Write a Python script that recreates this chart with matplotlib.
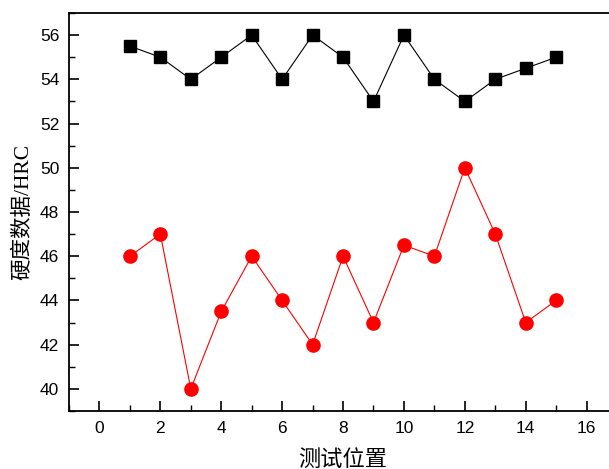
import numpy as np
import matplotlib
matplotlib.use("Agg")
import matplotlib.pyplot as plt
from matplotlib.ticker import MultipleLocator

# test positions and hardness readings (HRC)
positions = [1, 2, 3, 4, 5, 6, 7, 8, 9, 10, 11, 12, 13, 14, 15]
hard_black = [55.5, 55, 54, 55, 56, 54, 56, 55, 53, 56, 54, 53, 54, 54.5, 55]
hard_red = [46, 47, 40, 43.5, 46, 44, 42, 46, 43, 46.5, 46, 50, 47, 43, 44]

plt.rcParams['font.family'] = ['Liberation Sans', 'DejaVu Sans']

fig = plt.figure(figsize=(6.09, 4.69), dpi=100)
ax = fig.add_axes([0.1133, 0.1237, 0.900, 0.8486])

ax.plot(positions, hard_black, color="black", lw=0.8, marker="s", ms=8.5,
        mec="black", mfc="black")
ax.plot(positions, hard_red, color="red", lw=0.8, marker="o", ms=9.5,
        mec="red", mfc="red")

ax.set_xlim(-1, 17)
ax.set_ylim(39, 57)
ax.xaxis.set_major_locator(MultipleLocator(2))
ax.xaxis.set_minor_locator(MultipleLocator(1))
ax.yaxis.set_major_locator(MultipleLocator(2))
ax.yaxis.set_minor_locator(MultipleLocator(1))
ax.tick_params(which="major", direction="in", length=7, width=1.2, labelsize=12.5, pad=7)
ax.tick_params(which="minor", direction="in", length=4, width=1.0)
for lbl in ax.get_xticklabels() + ax.get_yticklabels():
    lbl.set_fontweight("medium")
for s in ax.spines.values():
    s.set_linewidth(1.3)

lab_font = ['Liberation Serif', 'Noto Sans CJK SC']
ax.set_xlabel("测试位置", family=lab_font, fontsize=16, labelpad=10)
ax.set_ylabel("硬度数据/HRC", family=lab_font, fontsize=15.5, labelpad=5)

fig.savefig("out.png", dpi=100)
